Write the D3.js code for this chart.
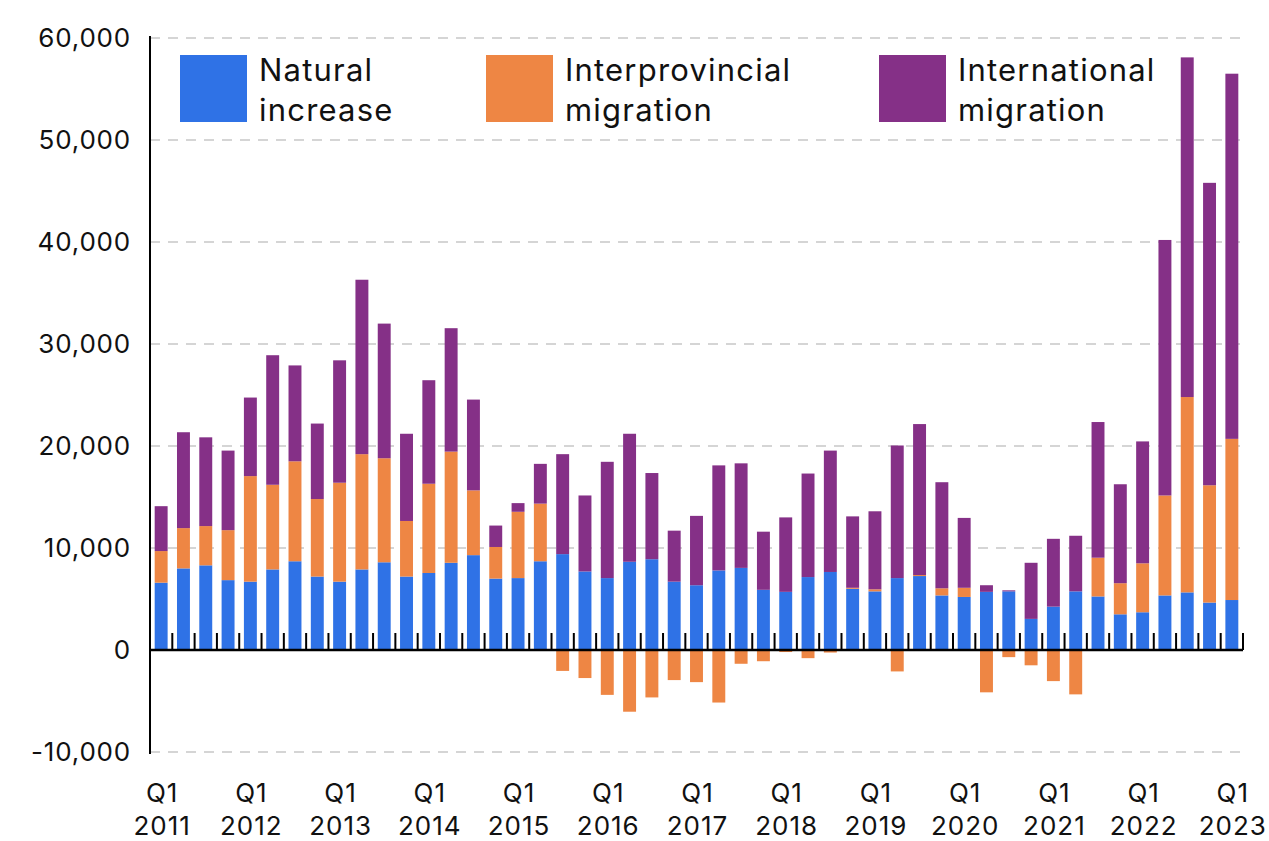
<!DOCTYPE html>
<html>
<head>
<meta charset="utf-8">
<script src="https://cdn.jsdelivr.net/npm/d3@7/dist/d3.min.js"></script>
<style>
  html, body { margin: 0; padding: 0; background: #fff; }
  svg { display: block; font-family: Inter, "Noto Sans", sans-serif; }
</style>
</head>
<body>
<svg id="chart" width="1269" height="841"></svg>
<script>
// quarters, Q1 2011 .. Q1 2023
const quarters = [
  'Q1 2011', 'Q2 2011', 'Q3 2011', 'Q4 2011',
  'Q1 2012', 'Q2 2012', 'Q3 2012', 'Q4 2012',
  'Q1 2013', 'Q2 2013', 'Q3 2013', 'Q4 2013',
  'Q1 2014', 'Q2 2014', 'Q3 2014', 'Q4 2014',
  'Q1 2015', 'Q2 2015', 'Q3 2015', 'Q4 2015',
  'Q1 2016', 'Q2 2016', 'Q3 2016', 'Q4 2016',
  'Q1 2017', 'Q2 2017', 'Q3 2017', 'Q4 2017',
  'Q1 2018', 'Q2 2018', 'Q3 2018', 'Q4 2018',
  'Q1 2019', 'Q2 2019', 'Q3 2019', 'Q4 2019',
  'Q1 2020', 'Q2 2020', 'Q3 2020', 'Q4 2020',
  'Q1 2021', 'Q2 2021', 'Q3 2021', 'Q4 2021',
  'Q1 2022', 'Q2 2022', 'Q3 2022', 'Q4 2022',
  'Q1 2023'
];

const naturalIncrease = [
  6600, 8000, 8300, 6850, 6700, 7900, 8700, 7200, 6700, 7900, 8600, 7200,
  7550, 8550, 9300, 7000, 7050, 8700, 9400, 7700, 7050, 8650, 8900, 6700,
  6350, 7800, 8050, 5900, 5700, 7150, 7650, 6000, 5750, 7050, 7250, 5350,
  5200, 5700, 5750, 3050, 4250, 5750, 5250, 3500, 3700, 5350, 5650, 4650,
  4900
];

const interprovincial = [
  3100, 3950, 3850, 4900, 10350, 8300, 9800, 7600, 9700, 11300, 10200, 5450,
  8750, 10900, 6350, 3100, 6500, 5650, -2050, -2750, -4400, -6050, -4650, -2950,
  -3150, -5150, -1350, -1100, -200, -800, -250, 100, 200, -2100, 100, 700,
  900, -4150, -700, -1500, -3050, -4350, 3800, 3050, 4800, 9800, 19150, 11500,
  15800
];

const international = [
  4400, 9400, 8700, 7800, 7700, 12700, 9400, 7400, 12000, 17100, 13200, 8550,
  10150, 12100, 8900, 2100, 850, 3900, 9800, 7450, 11400, 12550, 8450, 5000,
  6800, 10300, 10250, 5700, 7300, 10150, 11900, 7000, 7650, 13000, 14800, 10400,
  6850, 650, 100, 5500, 6650, 5450, 13300, 9700, 11950, 25050, 33300, 29650,
  35800
];

const seriesKeys = ['natural', 'interprovincial', 'international'];
const seriesLabels = [['Natural', 'increase'], ['Interprovincial', 'migration'], ['International', 'migration']];
const seriesColors = ['#2f72e6', '#ee8644', '#853087'];
const yTicks = [-10000, 0, 10000, 20000, 30000, 40000, 50000, 60000];

const rows = quarters.map((q, i) => ({
  quarter: q,
  natural: naturalIncrease[i],
  interprovincial: interprovincial[i],
  international: international[i]
}));

const svg = d3.select('#chart');
const plotLeft = 150, plotRight = 1243, plotTop = 38, plotBottom = 752;

const x = d3.scaleBand()
  .domain(d3.range(rows.length))
  .range([plotLeft, plotRight])
  .paddingInner(0.42)
  .paddingOuter(0.21);

const y = d3.scaleLinear()
  .domain([-10000, 60000])
  .range([plotBottom, plotTop]);

const color = d3.scaleOrdinal().domain(seriesKeys).range(seriesColors);

// plain hyphen for negatives, like the original
const fmt = d3.formatLocale({
  decimal: '.', thousands: ',', grouping: [3], currency: ['$', ''], minus: '-'
}).format(',');

// gridlines
svg.append('g')
  .selectAll('line')
  .data(yTicks.filter(d => d !== 0))
  .join('line')
  .attr('x1', plotLeft)
  .attr('x2', plotRight + 2)
  .attr('y1', d => y(d))
  .attr('y2', d => y(d))
  .attr('stroke', '#c8c8c8')
  .attr('stroke-width', 1.5)
  .attr('stroke-dasharray', '10,8');

// stacked bars (negatives go below zero)
const stacked = d3.stack()
  .keys(seriesKeys)
  .offset(d3.stackOffsetDiverging)(rows);

svg.append('g')
  .selectAll('g')
  .data(stacked)
  .join('g')
  .attr('fill', d => color(d.key))
  .selectAll('rect')
  .data(d => d)
  .join('rect')
  .attr('x', (d, i) => x(i))
  .attr('width', x.bandwidth())
  .attr('y', d => y(Math.max(d[0], d[1])))
  .attr('height', d => Math.abs(y(d[0]) - y(d[1])));

// zero line with ticks between quarters
const step = x.step();
svg.append('line')
  .attr('x1', plotLeft)
  .attr('x2', plotRight)
  .attr('y1', y(0))
  .attr('y2', y(0))
  .attr('stroke', '#000')
  .attr('stroke-width', 2.5);

svg.append('g')
  .selectAll('line')
  .data(d3.range(1, rows.length + 1))
  .join('line')
  .attr('x1', k => plotLeft + k * step)
  .attr('x2', k => plotLeft + k * step)
  .attr('y1', y(0))
  .attr('y2', y(0) - 17)
  .attr('stroke', '#000')
  .attr('stroke-width', 2);

// y axis
svg.append('line')
  .attr('x1', plotLeft)
  .attr('x2', plotLeft)
  .attr('y1', plotTop - 2)
  .attr('y2', plotBottom + 2)
  .attr('stroke', '#000')
  .attr('stroke-width', 2);

svg.append('g')
  .selectAll('text')
  .data(yTicks)
  .join('text')
  .attr('x', 131)
  .attr('y', d => y(d))
  .attr('dy', '0.36em')
  .attr('text-anchor', 'end')
  .attr('font-size', 26)
  .attr('letter-spacing', 0.8)
  .attr('fill', '#111')
  .text(d => fmt(d));

// x labels at each Q1
const xLabels = svg.append('g')
  .selectAll('text')
  .data(rows.map((r, i) => ({ r, i })).filter(d => d.i % 4 === 0))
  .join('text')
  .attr('text-anchor', 'middle')
  .attr('font-size', 26)
  .attr('letter-spacing', 1)
  .attr('fill', '#111');

xLabels.append('tspan')
  .attr('x', d => x(d.i) + x.bandwidth() / 2 + 1)
  .attr('y', 802)
  .text(d => d.r.quarter.split(' ')[0]);
xLabels.append('tspan')
  .attr('x', d => x(d.i) + x.bandwidth() / 2 + 1)
  .attr('y', 835)
  .text(d => d.r.quarter.split(' ')[1]);

// legend
const legendX = [180, 486, 879];
const legend = svg.append('g')
  .selectAll('g')
  .data(seriesKeys)
  .join('g')
  .attr('transform', (d, i) => `translate(${legendX[i]},55)`);

legend.append('rect')
  .attr('width', 67)
  .attr('height', 67)
  .attr('fill', d => color(d));

legend.each(function (d, i) {
  const t = d3.select(this).append('text')
    .attr('font-size', 31)
    .attr('letter-spacing', 1.2)
    .attr('fill', '#111');
  seriesLabels[i].forEach((line, j) => {
    t.append('tspan')
      .attr('x', 79)
      .attr('y', 26 + j * 40)
      .text(line);
  });
});
</script>
</body>
</html>
